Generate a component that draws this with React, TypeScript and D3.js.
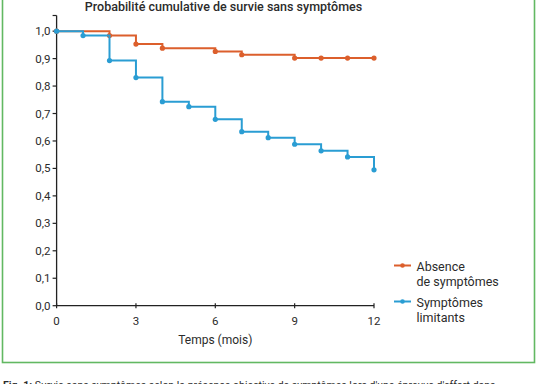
import React from "react";
import * as d3 from "d3";

const title = "Probabilité cumulative de survie sans symptômes";
const xLabel = "Temps (mois)";
const xTicks = [0, 3, 6, 9, 12];
const yTicks = [0, 0.1, 0.2, 0.3, 0.4, 0.5, 0.6, 0.7, 0.8, 0.9, 1.0];

const absenceTimes = [0, 2, 3, 4, 6, 7, 9, 10, 11, 12];
const absenceValues = [1.0, 0.984, 0.953, 0.938, 0.926, 0.914, 0.902, 0.902, 0.902, 0.902];

const limitTimes = [0, 1, 2, 3, 4, 5, 6, 7, 8, 9, 10, 11, 12];
const limitValues = [1.0, 0.984, 0.893, 0.831, 0.743, 0.725, 0.679, 0.634, 0.612, 0.588, 0.564, 0.542, 0.495];

const seriesNames = [["Absence", "de symptômes"], ["Symptômes", "limitants"]];
const caption = "Survie sans symptômes selon la présence objective de symptômes lors d'une épreuve d'effort dans";

const ORANGE = "#dc5f2c";
const BLUE = "#2a9dd3";
const FONT = "Roboto, 'DejaVu Sans', sans-serif";
const TXT = "#2b2b2b";

export default function App() {
  const W = 538, H = 384;
  const x = d3.scaleLinear().domain([0, 12]).range([56.6, 374]);
  const y = d3.scaleLinear().domain([0, 1.057]).range([305.7, 15.5]);

  const line = d3
    .line<[number, number]>()
    .x((d) => x(d[0]))
    .y((d) => y(d[1]))
    .curve(d3.curveStepAfter);

  const series = [
    { color: ORANGE, pts: absenceTimes.map((t, i) => [t, absenceValues[i]] as [number, number]) },
    { color: BLUE, pts: limitTimes.map((t, i) => [t, limitValues[i]] as [number, number]) },
  ];

  const legendY = [265.5, 301.5];

  return (
    <svg
      width={W}
      height={H}
      style={{ position: "absolute", left: 0, top: 0, background: "#fff" }}
      fontFamily={FONT}
    >
      <rect x={0} y={0} width={W} height={H} fill="#fff" />
      <rect x={2.5} y={-10} width={532} height={372.5} fill="none" stroke="#62b862" strokeWidth={1.6} />

      <text x={223.5} y={10.5} textAnchor="middle" fontSize={12.5} fontWeight={500} fill={TXT}>
        {title}
      </text>

      {/* Y axis */}
      <line x1={x(0)} x2={x(0)} y1={y(1.057)} y2={y(0)} stroke="#222" strokeWidth={1.3} />
      <line x1={x(0) - 4} x2={x(0)} y1={y(1.057)} y2={y(1.057)} stroke="#222" strokeWidth={1.2} />
      {yTicks.map((v) => (
        <g key={v}>
          <line x1={x(0) - 4} x2={x(0)} y1={y(v)} y2={y(v)} stroke="#222" strokeWidth={1.2} />
          <text x={50.5} y={y(v) + 4} textAnchor="end" fontSize={11.5} fill={TXT}>
            {v.toFixed(1).replace(".", ",")}
          </text>
        </g>
      ))}

      {/* X axis */}
      <line x1={x(0)} x2={x(12)} y1={y(0)} y2={y(0)} stroke="#222" strokeWidth={1.3} />
      {xTicks.map((t) => (
        <g key={t}>
          <line x1={x(t)} x2={x(t)} y1={y(0) - 2.5} y2={y(0) + 2.5} stroke="#222" strokeWidth={1.2} />
          <text x={x(t)} y={325} textAnchor="middle" fontSize={11.5} fill={TXT}>
            {t}
          </text>
        </g>
      ))}
      <text x={x(6)} y={343.5} textAnchor="middle" fontSize={12} fill={TXT}>
        {xLabel}
      </text>

      {/* Series */}
      {series.map((s, i) => (
        <g key={i}>
          <path d={line(s.pts) || ""} fill="none" stroke={s.color} strokeWidth={2} />
          {s.pts.map((p, j) => (
            <circle key={j} cx={x(p[0])} cy={y(p[1])} r={2.6} fill={s.color} />
          ))}
        </g>
      ))}

      {/* Legend */}
      {series.map((s, i) => (
        <g key={i}>
          <line x1={394} x2={411} y1={legendY[i]} y2={legendY[i]} stroke={s.color} strokeWidth={2} />
          <circle cx={402.5} cy={legendY[i]} r={2.3} fill={s.color} />
          <text x={416.5} y={legendY[i] + 5.5} fontSize={12.5} fill={TXT}>
            {seriesNames[i][0]}
          </text>
          <text x={416.5} y={legendY[i] + 20} fontSize={12.5} fill={TXT}>
            {seriesNames[i][1]}
          </text>
        </g>
      ))}

      {/* Caption (cut off at the bottom, as in the source page) */}
      <text x={3} y={389} fontSize={10.5} fill={TXT}>
        <tspan fontWeight={700}>Fig. 1: </tspan>
        <tspan>{caption}</tspan>
      </text>
    </svg>
  );
}
